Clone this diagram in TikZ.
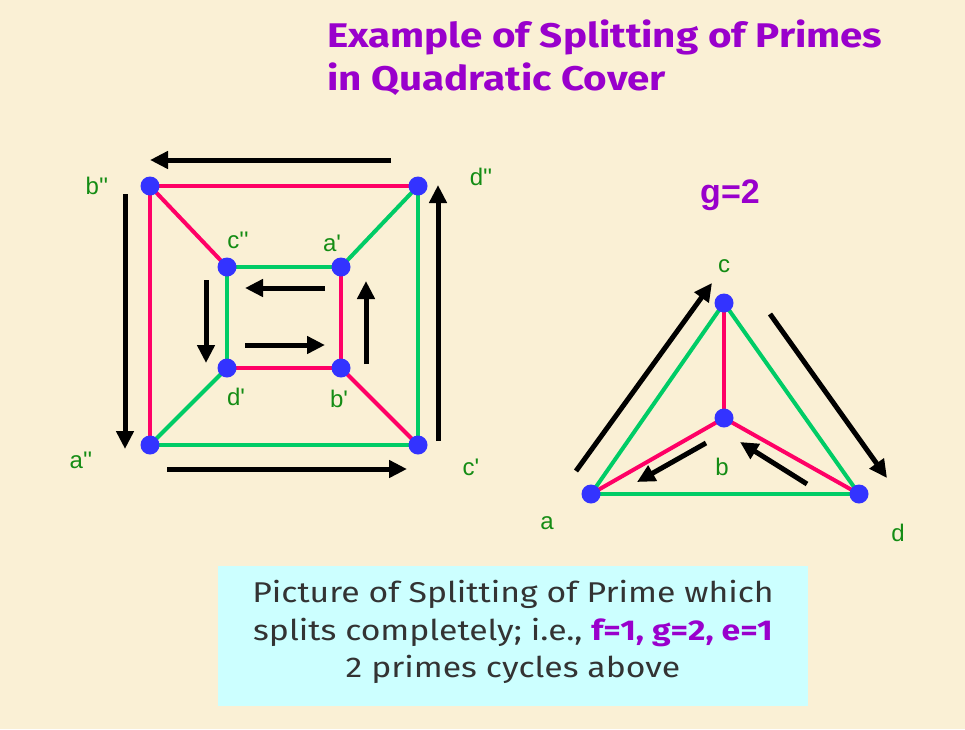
\documentclass[tikz,border=0pt]{standalone}
\usepackage{fontspec}
\setmainfont{Fira Sans}[FakeStretch=1.18]
\newfontfamily\labelfont{Liberation Sans}
\usetikzlibrary{arrows.meta}
\newcommand{\prm}{\textquotesingle}
\definecolor{slideBg}{HTML}{FAF0D5}
\definecolor{titlePurple}{HTML}{9900CC}
\definecolor{edgeRed}{HTML}{FF0066}
\definecolor{edgeGreen}{HTML}{00CC66}
\definecolor{dotBlue}{HTML}{3333FF}
\definecolor{labelGreen}{HTML}{148C14}
\definecolor{boxCyan}{HTML}{CCFFFF}
\definecolor{boxText}{HTML}{333333}

\begin{document}
\begin{tikzpicture}[
  x=1pt, y=-1pt,
  line cap=round, line join=round,
  >={Triangle[length=18pt,width=17pt]},
  red edge/.style={draw=edgeRed, line width=4pt},
  green edge/.style={draw=edgeGreen, line width=4pt},
  flow/.style={draw=black, line width=5pt, line cap=butt, ->},
  vlabel/.style={text=labelGreen, inner sep=0pt,
    font=\labelfont\fontsize{24}{24}\selectfont},
  title line/.style={text=titlePurple, anchor=base west, inner sep=0pt,
    font=\bfseries\fontsize{34.2}{34.2}\selectfont}
]

\fill[slideBg] (0,0) rectangle (965,729);
\useasboundingbox (0,0) rectangle (965,729);

\node[title line] (title1) at (327,47) {Example of Splitting of Primes};
\node[title line] (title2) at (327,90) {in Quadratic Cover};

% Left: the cover, two squares joined at the corners.
\coordinate (bpp) at (150,186);
\coordinate (dpp) at (418,186);
\coordinate (app) at (150,445);
\coordinate (cp)  at (418,445);
\coordinate (cpp) at (227,267);
\coordinate (ap)  at (341,267);
\coordinate (dp)  at (227,368);
\coordinate (bp)  at (341,368);

\draw[red edge] (bpp) -- (dpp);
\draw[red edge] (bpp) -- (app);
\draw[red edge] (bpp) -- (cpp);
\draw[red edge] (ap) -- (bp);
\draw[red edge] (dp) -- (bp);
\draw[red edge] (bp) -- (cp);
\draw[green edge] (dpp) -- (ap);
\draw[green edge] (dpp) -- (cp);
\draw[green edge] (app) -- (cp);
\draw[green edge] (cpp) -- (ap);
\draw[green edge] (cpp) -- (dp);
\draw[green edge] (dp) -- (app);

\node[vlabel] (lbpp) at (97,186) {b\prm\prm};
\node[vlabel] (ldpp) at (481,177) {d\prm\prm};
\node[vlabel] (lcpp) at (238,240) {c\prm\prm};
\node[vlabel] (lap)  at (332,243) {a\prm};
\node[vlabel] (ldp)  at (236,397) {d\prm};
\node[vlabel] (lbp)  at (339,399) {b\prm};
\node[vlabel] (lapp) at (81,460) {a\prm\prm};
\node[vlabel] (lcp)  at (471,467) {c\prm};

% Arrows round the two cycles.
\coordinate (o1s) at (391,160); \coordinate (o1t) at (150,160);
\coordinate (o2s) at (125,194); \coordinate (o2t) at (125,449);
\coordinate (o3s) at (167,469); \coordinate (o3t) at (407,469);
\coordinate (o4s) at (438,441); \coordinate (o4t) at (438,185);
\coordinate (i1s) at (325,288); \coordinate (i1t) at (245,288);
\coordinate (i2s) at (206,280); \coordinate (i2t) at (206,363);
\coordinate (i3s) at (245,345); \coordinate (i3t) at (325,345);
\coordinate (i4s) at (366,364); \coordinate (i4t) at (366,281);
\foreach \p in {o1,o2,o3,o4,i1,i2,i3,i4}
  \draw[flow] (\p s) -- (\p t);

% Right: the base, a triangle with its centre.
\node[text=titlePurple, font=\labelfont\bfseries\fontsize{34}{34}\selectfont]
  (gtwo) at (730,195) {g=2};

\coordinate (c) at (724,303);
\coordinate (b) at (724,418);
\coordinate (a) at (591,494);
\coordinate (d) at (859,494);

\draw[green edge] (a) -- (c);
\draw[green edge] (c) -- (d);
\draw[green edge] (a) -- (d);
\draw[red edge] (c) -- (b);
\draw[red edge] (a) -- (b);
\draw[red edge] (b) -- (d);

\node[vlabel] (lc) at (724,266) {c};
\node[vlabel] (lb) at (722,467) {b};
\node[vlabel] (la) at (547,523) {a};
\node[vlabel] (ld) at (898,533) {d};

\coordinate (t1s) at (576,471); \coordinate (t1t) at (712,283);
\coordinate (t2s) at (770,314); \coordinate (t2t) at (887,478);
\coordinate (t3s) at (706,443); \coordinate (t3t) at (637,482);
\coordinate (t4s) at (807,484); \coordinate (t4t) at (740,442);
\foreach \p in {t1,t2,t3,t4}
  \draw[flow] (\p s) -- (\p t);

% Dots go on top of the edges.
\foreach \v in {bpp,dpp,app,cp,cpp,ap,dp,bp,a,b,c,d}
  \fill[dotBlue] (\v) circle[radius=9.5];

\fill[boxCyan] (218,566) rectangle (808,706);
\node[text=boxText, align=center, font=\fontsize{28.6}{37.5}\selectfont]
  (caption) at (513,632)
  {Picture of Splitting of Prime which\\
   splits completely; i.e., \textcolor{titlePurple}{\bfseries f=1, g=2, e=1}\\
   2 primes cycles above};
\end{tikzpicture}
\end{document}
